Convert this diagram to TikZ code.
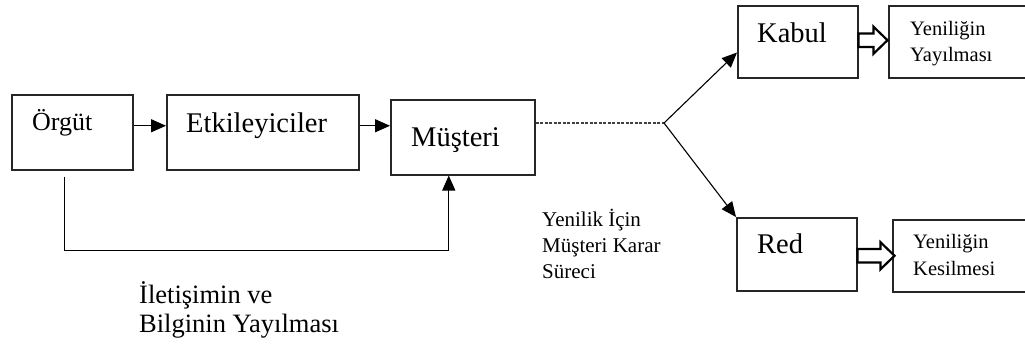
\documentclass[tikz,border=0pt]{standalone}
\usepackage{fontspec}
\setmainfont{Liberation Serif}
\usetikzlibrary{arrows.meta,calc}

\tikzset{
  box/.style={draw=black!85, line width=1.5pt, anchor=north west, inner sep=0pt},
  conn/.style={draw=black, line width=1.3pt},
  tip/.style={-{Triangle[length=15pt,width=13pt]}},
  big/.style={anchor=base west, inner sep=0pt, font=\fontsize{28.5}{34}\selectfont},
  mid/.style={anchor=base west, inner sep=0pt, font=\fontsize{26.5}{32}\selectfont},
  small/.style={anchor=base west, inner sep=0pt, font=\fontsize{20.5}{26}\selectfont},
  note/.style={anchor=base west, inner sep=0pt, font=\fontsize{21}{26}\selectfont},
  hollow/.style={draw=black, line width=2.2pt, fill=white, line join=miter},
  pics/blockarrow/.style n args={2}{code={
    \draw[hollow] (0,-6.75) -- (#2,-6.75) -- (#2,-13.5) -- (#1,0)
      -- (#2,13.5) -- (#2,6.75) -- (0,6.75) -- cycle;
  }}
}

\begin{document}
\begin{tikzpicture}[x=1pt,y=-1pt]
\clip (0,0) rectangle (1025,346);

% boxes
\node[box, minimum width=121pt, minimum height=75pt] (orgut) at (11,94) {};
\node[box, minimum width=192pt, minimum height=75pt] (etk) at (166,94) {};
\node[box, minimum width=144pt, minimum height=75pt] (must) at (390,99) {};
\node[box, minimum width=120pt, minimum height=72pt] (kabul) at (737,5) {};
\node[box, minimum width=142pt, minimum height=72pt] (yay) at (888,5) {};
\node[box, minimum width=120pt, minimum height=73pt] (red) at (736,217) {};
\node[box, minimum width=138pt, minimum height=72pt] (kes) at (892,219) {};

% box texts
\node[big, font=\fontsize{26}{32}\selectfont] (torgut) at ($(orgut.north west)+(21,36)$) {Örgüt};
\node[big] (tetk) at ($(etk.north west)+(20,38)$) {Etkileyiciler};
\node[big] (tmust) at ($(must.north west)+(21,47)$) {Müşteri};
\node[big] (tkabul) at ($(kabul.north west)+(20,37)$) {Kabul};
\node[big] (tred) at ($(red.north west)+(21,36)$) {Red};
\node[small] (tyay1) at ($(yay.north west)+(22,30)$) {Yeniliğin};
\node[small] (tyay2) at ($(yay.north west)+(22,56)$) {Yayılması};
\node[small] (tkes1) at ($(kes.north west)+(21,29)$) {Yeniliğin};
\node[small] (tkes2) at ($(kes.north west)+(21,56)$) {Kesilmesi};

% free texts
\node[note] (karar1) at (542,226) {Yenilik İçin};
\node[note] (karar2) at (542,252) {Müşteri Karar};
\node[note] (karar3) at (542,278) {Süreci};
\node[mid] (ilet1) at (139,303) {İletişimin ve};
\node[mid] (ilet2) at (139,332) {Bilginin Yayılması};

% main chain
\coordinate (a1) at ($(orgut.east)+(0,-6.5)$);
\coordinate (a2) at ($(etk.east)+(0,-6.5)$);
\draw[conn, tip] (a1) -- (a1 -| etk.west);
\draw[conn, tip] (a2) -- (a2 -| must.west);

% feedback line from Örgüt to Müşteri
\coordinate (fbA) at ($(orgut.south)+(-7.5,6)$);
\coordinate (fbB) at ($(must.south)+(-14,0)$);
\draw[conn, tip] (fbA) -- ++(0,74) -| (fbB);

% decision branch
\coordinate (branch) at (664,123);
\draw[draw=black!75, line width=1.1pt, dash pattern=on 3pt off 1.5pt] (must.east |- branch) -- (branch);
\draw[conn, line width=1.1pt, tip] (branch) -- ($(kabul.south west)+(0,-26)$);
\draw[conn, line width=1.1pt, tip] (branch) -- (red.north west);

% outcome arrows
\pic at ($(kabul.east)+(0,-1.5)$) {blockarrow={29}{15}};
\pic at ($(red.east)+(0,1.5)$) {blockarrow={37}{23}};
\end{tikzpicture}
\end{document}
